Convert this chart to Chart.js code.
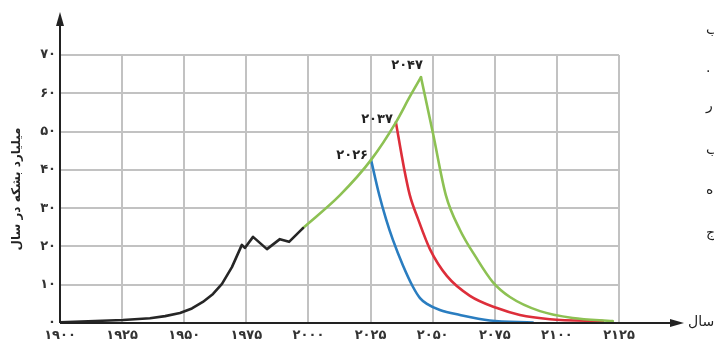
<!DOCTYPE html>
<html>
<head>
<meta charset="utf-8">
<script src="https://cdn.jsdelivr.net/npm/chart.js@4"></script>
<style>
  body { margin: 0; background: #fff; }
  #wrap { width: 714px; height: 346px; position: relative; }
</style>
</head>
<body>
<div id="wrap"><canvas id="oilChart"></canvas></div>
<script>
// historical production (black)
const histYears = [1900, 1925.4, 1936.2, 1942.3, 1948.3, 1953.1, 1957.5, 1961.6, 1965.2, 1969.2, 1973.2, 1974.4, 1977.7, 1983.3, 1988.5, 1992.2, 1997.8];
const histVals = [0.2, 0.8, 1.25, 1.8, 2.6, 3.8, 5.5, 7.6, 10.2, 14.6, 20.4, 19.6, 22.5, 19.3, 21.9, 21.2, 24.8];

// forecast growth (green, up to the 2047 peak)
const riseYears = [1997.8, 2012.7, 2025.2, 2035.2, 2040.8, 2045.3];
const riseVals = [24.8, 33.4, 42.6, 52.4, 59.1, 64.2];

// decline scenarios
const greenYears = [2045.3, 2050.1, 2055.3, 2061.0, 2067.4, 2074.2, 2081.1, 2093.2, 2106.4, 2122.5];
const greenVals = [64.2, 49.6, 33.4, 24.3, 17.2, 10.7, 6.8, 3.1, 1.3, 0.5];
const redYears = [2035.2, 2038.4, 2040.8, 2044.1, 2048.9, 2055.7, 2065.0, 2075.9, 2085.1, 2097.2, 2118.5];
const redVals = [52.4, 40.7, 33.4, 27.2, 19.3, 12.3, 7.1, 3.9, 2.1, 1.0, 0.5];
const blueYears = [2025.2, 2028.4, 2031.2, 2034.0, 2038.0, 2042.1, 2044.9, 2047.7, 2052.9, 2061.0, 2073.0, 2090.3];
const blueVals = [42.6, 33.7, 27.2, 21.7, 15.1, 9.4, 6.5, 5.0, 3.4, 2.1, 0.65, 0.13];

const peakYears = [2026, 2037, 2047]; // blue, red, green

const faDigits = "۰۱۲۳۴۵۶۷۸۹";
const toFa = (n) => String(n).replace(/\d/g, (d) => faDigits[d]);
const pts = (xs, ys) => xs.map((x, i) => ({ x: x, y: ys[i] }));

const GREEN = "#8dc153";
const RED = "#dd2e3a";
const BLUE = "#2a7dc0";

const axesPlugin = {
  id: "axesPlugin",
  afterDraw(chart) {
    const { ctx, chartArea: a } = chart;
    ctx.save();
    ctx.strokeStyle = "#222";
    ctx.fillStyle = "#222";
    ctx.lineWidth = 2;
    ctx.beginPath();
    ctx.moveTo(a.left, a.bottom);
    ctx.lineTo(a.left, 22);
    ctx.moveTo(a.left, a.bottom);
    ctx.lineTo(674, a.bottom);
    ctx.stroke();
    ctx.beginPath();
    ctx.moveTo(a.left, 12);
    ctx.lineTo(a.left - 4, 26);
    ctx.lineTo(a.left + 4, 26);
    ctx.closePath();
    ctx.fill();
    ctx.beginPath();
    ctx.moveTo(684, a.bottom);
    ctx.lineTo(670, a.bottom - 4);
    ctx.lineTo(670, a.bottom + 4);
    ctx.closePath();
    ctx.fill();

    // peak labels
    ctx.font = "bold 13px 'DejaVu Sans'";
    ctx.textAlign = "right";
    ctx.textBaseline = "alphabetic";
    const blueP = chart.getDatasetMeta(4).data[0];
    const redP = chart.getDatasetMeta(3).data[0];
    const greenP = chart.getDatasetMeta(2).data[0];
    ctx.fillText(toFa(peakYears[0]), blueP.x - 3, blueP.y - 1);
    ctx.fillText(toFa(peakYears[1]), redP.x - 3, redP.y + 1);
    ctx.fillText(toFa(peakYears[2]), greenP.x + 2, greenP.y - 8);

    // x axis name
    ctx.textAlign = "left";
    ctx.textBaseline = "middle";
    ctx.font = "14px 'DejaVu Sans'";
    ctx.fillText("سال", 688, a.bottom - 1);

    // cut-off text from the neighbouring column
    const edge = ["ب", ".", "ر", "ب", "ه", "ج"];
    const edgeY = [30, 68, 106, 150, 190, 233];
    ctx.font = "14px 'DejaVu Sans'";
    edge.forEach((ch, i) => ctx.fillText(ch, 706, edgeY[i]));
    ctx.restore();
  },
};

const tickFont = { family: "DejaVu Sans", size: 13, weight: "bold" };

new Chart(document.getElementById("oilChart"), {
  type: "line",
  data: {
    datasets: [
      { data: pts(histYears, histVals), borderColor: "#262626", tension: 0 },
      { data: pts(riseYears, riseVals), borderColor: GREEN, cubicInterpolationMode: "monotone" },
      { data: pts(greenYears, greenVals), borderColor: GREEN, cubicInterpolationMode: "monotone" },
      { data: pts(redYears, redVals), borderColor: RED, cubicInterpolationMode: "monotone" },
      { data: pts(blueYears, blueVals), borderColor: BLUE, cubicInterpolationMode: "monotone" },
    ],
  },
  options: {
    responsive: true,
    maintainAspectRatio: false,
    animation: false,
    layout: { padding: { left: 0, top: 55, right: 95, bottom: 0 } },
    elements: {
      point: { radius: 0 },
      line: { borderWidth: 2.6, borderCapStyle: "round", borderJoinStyle: "round" },
    },
    plugins: { legend: { display: false }, tooltip: { enabled: false } },
    scales: {
      x: {
        type: "linear",
        min: 1900,
        max: 2125,
        afterFit: (s) => { s.height = 23; },
        grid: { color: "#c2c2c2", lineWidth: 2, drawTicks: false },
        border: { display: false },
        ticks: { stepSize: 25, padding: 5, color: "#333", font: tickFont, maxRotation: 0, callback: (v) => toFa(v) },
      },
      y: {
        min: 0,
        max: 70,
        afterFit: (s) => { s.width = 60; },
        grid: { color: "#c2c2c2", lineWidth: 2, drawTicks: false },
        border: { display: false },
        ticks: { stepSize: 10, padding: 4, color: "#333", font: tickFont, callback: (v) => toFa(v) },
        title: {
          display: true,
          text: "میلیارد بشکه در سال",
          color: "#222",
          font: { family: "DejaVu Sans", size: 12, weight: "bold" },
          padding: { top: 10, bottom: 0 },
        },
      },
    },
  },
  plugins: [axesPlugin],
});
</script>
</body>
</html>
